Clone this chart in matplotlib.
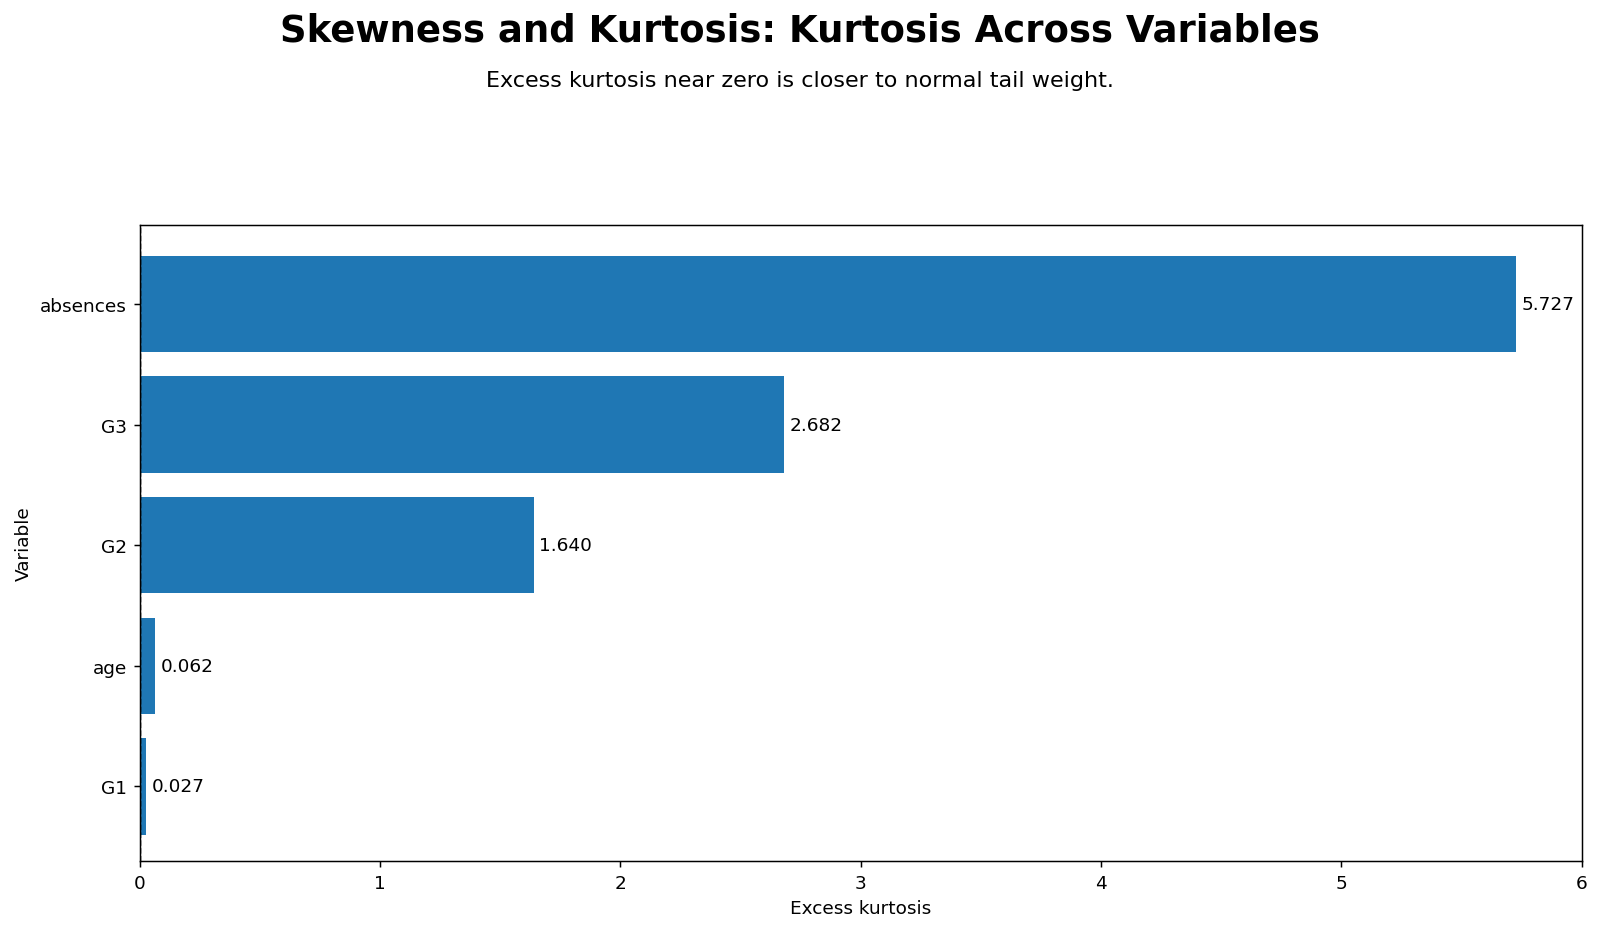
import matplotlib
matplotlib.use("Agg")
import matplotlib.pyplot as plt

# Data (bottom to top)
variables = ["G1", "age", "G2", "G3", "absences"]
kurtosis = [0.027, 0.062, 1.640, 2.682, 5.727]

fig = plt.figure(figsize=(12, 6.99), dpi=133.33)
ax = fig.add_axes([0.0874, 0.075, 0.9011, 0.683])

bars = ax.barh(variables, kurtosis, height=0.8, color="#1f77b4")
ax.axvline(0, color="black", linestyle="--", linewidth=0.8)
ax.bar_label(bars, labels=[f"{v:.3f}" for v in kurtosis], padding=3)

ax.set_xlim(0, 6)
ax.set_ylim(-0.62, 4.66)
ax.set_xlabel("Excess kurtosis")
ax.set_ylabel("Variable")

fig.text(0.5, 0.967, "Skewness and Kurtosis: Kurtosis Across Variables",
         ha="center", va="center", fontsize=20, fontweight="bold")
fig.text(0.5, 0.913, "Excess kurtosis near zero is closer to normal tail weight.",
         ha="center", va="center", fontsize=12)

fig.savefig("out.png", dpi=133.33)
